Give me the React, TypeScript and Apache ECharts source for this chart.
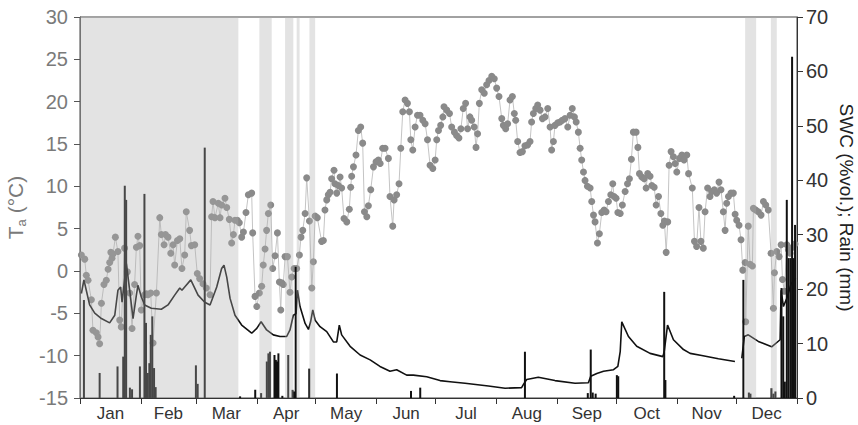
import React, { useEffect, useRef } from "react";
import * as echarts from "echarts";

// Month names and month boundaries (days since 1 Jan)
const MONTHS = ["Jan", "Feb", "Mar", "Apr", "May", "Jun", "Jul", "Aug", "Sep", "Oct", "Nov", "Dec"];
const MONTH_STARTS = [0, 31, 59, 90, 120, 151, 181, 212, 243, 273, 304, 334, 365];

// Shaded periods [start, end] in days since 1 Jan
const SHADED_PERIODS = [
  [0, 80.6], [91.3, 97.6], [104.4, 108.6], [110.3, 111.8], [116.8, 119.7],
  [338.6, 344.2], [351.7, 354.7],
];

// Daily air temperature Ta (°C): [day of year, value]
const TA_OBS = [
  [1.2, 1.9], [2.9, 1.4], [3.7, -0.5], [4.6, -1.1], [6.3, -3.4], [7.1, -7], [8.8, -7.3], [9.7, -7.8], [10.5, -8.6],
  [11.4, -3.8], [12.7, -1.6], [13.9, -1.1], [14.8, 0.2], [15.6, 1], [16.2, 2.2], [16.8, 1.5], [17.3, 2], [18.5, 4],
  [19.8, 2.3], [20.7, -5.8], [21.5, -6.6], [23.2, 2.7], [24.6, -0.1], [25.8, -2.6], [27, -6.8], [28.3, -1.6],
  [29.2, 2.8], [30, 4.1], [30.9, 3], [31.7, -4.6], [33.4, -2.8], [34.3, -2.7], [35.1, -2.8], [36.5, -2.6],
  [37.7, -8.5], [39.4, -2.6], [41.1, 6.3], [41.9, 4.3], [43.3, 3.1], [44, 4.3], [45.3, 4], [46.7, 2.1], [47.9, 3.1],
  [48.7, 0.7], [50.1, 3.6], [51.3, 3.8], [52.4, 0.3], [53.8, 1.9], [54.6, 7], [56.3, 4.8], [57.2, 3], [58.9, 3.1],
  [60.2, -0.3], [61.4, -0.9], [63.1, -1.5], [64.8, -2],
  [66.7, -2.8], [67.5, 6.4], [68.2, 8.2], [69.2, 6.3], [70.9, 8.0], [71.8, 6.3], [72.6, 7.8], [74.3, 8.6], [75.2, 7.5],
  [76.5, 6.1], [77.7, 3.3], [78.6, 4.3], [79.4, 6], [80.6, 6], [81.6, 5.7], [82.8, 4], [83.7, 4.6], [85, 6.9],
  [86.2, 9.0], [87.9, 9.2], [88.4, 4.5], [89.6, -3], [90.5, -4.2], [91.8, -2.6], [93, -1.8], [93.8, 0.7], [94.7, 2.6],
  [95.5, 4.8], [96.4, 6.8], [97.6, 7.8], [98.6, 0.3], [99.8, 1.8], [101, 4.5], [102, -1.3], [102.7, -4.6],
  [103.2, -1.4], [104, -1.6], [104.9, 1.7], [106.1, 1.7], [107.4, -2.5], [108.3, -0.7], [109.5, 0.3], [110.8, 0.3],
  [112.2, 1.9], [113, 4], [113.9, 4.8], [115.1, 6.8], [115.9, 11], [117.3, 5.9], [118.5, -2], [119.3, 1.1],
  [120.2, 6.5], [121.3, 6.3],
  [123.5, 3.5], [124.4, 3.6], [125.2, 7.2], [126.1, 8.4], [126.9, 9], [127.8, 9.3], [128.6, 10.9], [129.8, 11.9],
  [130.3, 10.3], [131.2, 9.2], [132, 10.1], [132.9, 11.1], [133.7, 9.8], [134.9, 6.2], [136.3, 5.8], [137.6, 7.3],
  [138.3, 9.9], [138.8, 11.2], [139.7, 12.3], [141, 13.7], [142.2, 16.6], [143.4, 17], [144.4, 15.1], [145.3, 7],
  [146.5, 6.4], [147.3, 7.7], [148.5, 9.6], [149.9, 12.3], [151.2, 12.9], [152.4, 13.1], [153.3, 12.7], [154.6, 14.5],
  [155.8, 14.5], [157.5, 13.3], [158.3, 8.8], [159.7, 5.3], [160.4, 8.4], [161.7, 9], [162.9, 10.3], [163.8, 14.5],
  [164.8, 18.8], [166, 20.2], [167.2, 19.8], [168.2, 18.8], [168.9, 15.5], [169.9, 14.3], [171.1, 17], [172.3, 18.4],
  [173.6, 18.4], [175, 17.8], [176.2, 17.4], [177.4, 15.5], [178.7, 12.5], [180.1, 12.1], [181.3, 13.1],
  [182.1, 15.5], [183, 16.6], [184.1, 17.2], [185.2, 18.2], [185.8, 19.4], [187.2, 19], [188.6, 18.6],
  [189.7, 17], [191.1, 16.4], [192.2, 16], [193.4, 15.7], [194.4, 16.8], [195.6, 19.2], [196.8, 19.8], [197.8, 16.8],
  [199, 18.2], [199.9, 17.8], [201.2, 17], [202.1, 14.6], [202.9, 16.2], [203.8, 19.8], [205, 21.4], [206.3, 21],
  [207.5, 22], [208.7, 22.5], [210.1, 23], [211.4, 22.7], [212.6, 21.6], [213.8, 20.6], [215.2, 18], [216, 17.2],
  [217.2, 16.8], [218.2, 17.4], [219.4, 20.2], [220.6, 20.6], [221.6, 18.6], [222.3, 17.8], [223.3, 15.3],
  [224.5, 14], [225.7, 14.1], [227, 14.8], [228.4, 14.9], [229.6, 15.3], [230.4, 17.6], [231.3, 18.6], [232.5, 19.2],
  [233.5, 19.6], [234.7, 19], [235.9, 18], [237.2, 18.2], [238.6, 19.2], [239.8, 17], [240.6, 14.3], [241.5, 15.3],
  [242.3, 17.2], [243.7, 17.5], [244.9, 17.6], [246, 17.8], [247.4, 18], [248.8, 17], [250, 18.4], [251.1, 19.2],
  [252.2, 18.2],
  [253.1, 17.6], [254.2, 16.4], [255.1, 14.5], [255.9, 13.1], [256.8, 11.7], [257.6, 10.7], [258.8, 10], [260.2, 9.8],
  [261, 8.2], [261.9, 6.6], [262.7, 5.8], [263.9, 3.3], [264.9, 4.4], [266.1, 6.9], [267.3, 7.2], [268.3, 7],
  [269.5, 8.2], [270.7, 9], [271.7, 10.3], [272.4, 8.8], [273.4, 8.6], [274.3, 6.9], [275.5, 6.8], [276.6, 7.8],
  [278, 9.4], [279.2, 10.3], [280.2, 10.9], [281.2, 13.2], [282.2, 16.4], [283.6, 16.4], [284.5, 14.6],
  [285.3, 11.5], [286.5, 11.1], [287.7, 10.9], [288.7, 9.8], [289.5, 11.5], [290.7, 11.2], [291.6, 10.1],
  [292.8, 9.9], [293.8, 7.8], [295, 8.8], [296.2, 6.8], [297.2, 5.4], [298, 5.9], [298.9, 2.2], [299.7, 5.8],
  [300.4, 12.5], [301.4, 14.1], [302.6, 13.5], [303.5, 12.7], [304.3, 11.7], [305.7, 13.3], [306.9, 13.7],
  [308, 13.1], [309.4, 13.7], [310.3, 11.5],
  [312.2, 9.8], [313.3, 3.5], [314.4, 2.9], [315.6, 7.5], [316.6, 3.5], [317.8, 2.7], [318.7, 7], [320, 9.8],
  [321.2, 8.8], [322.1, 9.4], [323.4, 9.6], [324.6, 9.2], [325.8, 10.5], [326.8, 9.6], [328, 7], [328.9, 4.8],
  [329.7, 8], [330.6, 8.8], [331.9, 9.2], [333.1, 9.2], [334, 6.7], [334.8, 6], [336, 5.4], [337, 3.7], [337.9, 0.1],
  [339.1, 1], [339.4, -6], [340.7, 5.3], [341.6, 0.8], [342.8, 0.6], [343.3, 7.4], [344.5, 7.2], [345.8, 7],
  [347.2, 6.6], [348.4, 8.2], [349.6, 7.8], [350.9, 7.2], [352.3, 2.1], [353.5, -4.4], [354, -0.2], [355.2, 2.3],
  [356.4, 1.7], [357.4, 3.1], [358.1, -1], [359.1, -2.4], [360.3, 3.1], [361.1, 2.5], [362, 2.1], [363.3, 2.8],
  [364.5, 3.2],
];

// Soil water content SWC (%vol.): [day of year, value]; null = gap in record
const SWC_OBS = [
  [1.2, 19.2], [2.5, 21.7], [3.7, 19.8], [5.4, 17.1], [8, 15.6], [11.4, 14.6], [15.6, 13.8], [18.2, 15.2],
  [19.8, 19.8], [21.2, 20.4], [21.9, 17.6], [23.2, 21.7], [24.1, 24.7], [25.8, 19.8], [27.5, 14.6], [29.2, 18.9],
  [30, 20.7], [31.7, 18.6], [33.4, 17.1], [36.8, 16.5], [41.9, 16.3], [45.3, 17.1], [48.7, 18.9], [51.3, 20.2],
  [52.4, 19.8], [53.8, 20.4], [56.9, 21.7], [60.6, 18.9], [64, 17.6], [66.7, 17.1], [70.1, 20.4], [72.6, 23.8],
  [73.8, 24.4], [75.2, 22.2], [76.9, 18.3], [79.4, 15.2], [82.8, 13.4], [87.9, 11.9], [90.5, 12.8], [92.7, 14],
  [95.5, 12.5], [98.9, 11.6], [102.3, 11.3], [105.7, 11.3], [107.4, 12.5], [109.1, 15.2], [110.5, 15.5],
  [111.2, 19.8], [112.5, 16.8], [115.1, 13.7], [116.8, 12.6], [117.9, 14], [119, 16.2], [120.2, 14.3],
  [122.7, 13.1], [126.1, 12.2], [129.5, 10.3], [131.2, 10.3], [132.5, 13.4], [133.7, 11.6], [138, 9.5],
  [143.1, 7.9], [148.2, 7.0], [153.2, 5.8], [158.3, 4.9], [161.7, 5.2], [166.8, 4.2], [170.2, 4.2], [177, 3.9],
  [183.8, 3.2], [188.9, 3.0], [196.5, 2.7], [208.4, 2.2], [216.9, 1.8], [225.3, 1.9], [226.4, 2.6], [227.9, 3.4],
  [233.8, 3.8], [242.3, 3.2], [252.5, 2.7], [259.3, 2.8], [260.5, 4.0], [263.6, 4.5], [267, 4.9], [272.1, 5.2],
  [274.3, 5.8], [275.5, 8.5], [276.3, 14.0], [279.7, 11.3], [283.9, 9.5], [290.7, 8.2], [297.2, 7.6], [297.9, 8.5],
  [299.6, 13.4], [302.6, 10.7], [307.7, 8.9], [311.1, 8.2], [317, 7.8], [325.5, 7.2], [333.9, 6.7], [335.5, null],
  [337.4, 7.3], [338.7, 11.3], [340.7, 11.6], [345.8, 10.4], [352.6, 9.4], [356.9, 10.7], [357.4, 19.8],
  [358.6, 16.8], [360.5, 18.5], [362.5, 21], [364.8, 22],
];

// Daily rainfall (mm): [day of year, value]
const RAIN_OBS = [
  [2.5, 18], [10.5, 4.6], [19.6, 5.8], [22.5, 7.6], [23.3, 39], [24, 36.4], [25.9, 1.9], [27, 1.6], [31, 5.8],
  [33.3, 37.5], [34.1, 13.8], [35, 4.6], [35.8, 6.4], [36.5, 11.6], [37.3, 15], [38.2, 5.5], [39, 2],
  [59.5, 6], [60.4, 2.6], [64, 46], [82, 0.3], [89.7, 1.5], [92.7, 0.9], [95.6, 6.7], [96.4, 8.2], [97.2, 8.5],
  [99.5, 7.9], [100.2, 7.0], [100.8, 6.7], [101.5, 8.2], [103.5, 0.4], [106.5, 7.9], [108.7, 1.5], [109.5, 1.2],
  [110.3, 24.1], [117.2, 5.4], [131.3, 4.5], [169, 1.3], [173.7, 1.9], [227, 8.5], [259, 0.9], [260.5, 8.9],
  [261.5, 1.0], [263, 0.8], [273.8, 4.2], [274.5, 4.0], [297.9, 19.5], [298.5, 3.3], [333.5, 0.4], [338.2, 21.7],
  [341, 1], [341.8, 0.8], [352.5, 1.8], [353.5, 0.8], [354.5, 1.2], [357.6, 20.2], [358.5, 15], [359.3, 3],
  [360.3, 36.4], [361.2, 25.7], [362.2, 25.7], [363, 62.7], [363.8, 25.7], [364.5, 31.8],
];

const FONT = "'Liberation Sans', Arial, Helvetica, sans-serif";

export default function App() {
  const ref = useRef<HTMLDivElement | null>(null);

  useEffect(() => {
    if (!ref.current) return;
    const chart = echarts.init(ref.current, null, { renderer: "svg" });

    const monthMids = MONTH_STARTS.slice(0, 12).map((s, i) => (s + MONTH_STARTS[i + 1]) / 2);
    const toX = (d: number) => d - 0.5;

    const option: any = {
      animation: false,
      backgroundColor: "#ffffff",
      textStyle: { fontFamily: FONT },
      grid: {
        left: 80,
        right: 61,
        top: 17,
        bottom: 27,
        outerBoundsMode: "none",
        containLabel: false,
        show: true,
        borderColor: "#444",
        borderWidth: 1,
        backgroundColor: "transparent",
      },
      xAxis: {
        type: "value",
        min: 0,
        max: 365,
        splitLine: { show: false },
        axisLine: { show: true, onZero: false, lineStyle: { color: "#333", width: 1 } },
        axisTick: { show: true, customValues: MONTH_STARTS, length: 6, lineStyle: { color: "#333" } },
        axisLabel: {
          customValues: monthMids,
          margin: 7,
          fontSize: 17,
          color: "#333",
          fontFamily: FONT,
          formatter: (v: number) => {
            let best = 0;
            for (let i = 0; i < monthMids.length; i++) {
              if (Math.abs(monthMids[i] - v) < Math.abs(monthMids[best] - v)) best = i;
            }
            return MONTHS[best];
          },
        },
      },
      yAxis: [
        {
          type: "value",
          min: -15,
          max: 30,
          interval: 5,
          position: "left",
          splitLine: { show: false },
          axisLine: { show: true, onZero: false, lineStyle: { color: "#555", width: 1 } },
          axisTick: { show: true, length: 6, lineStyle: { color: "#555" } },
          axisLabel: { fontSize: 20, color: "#7a7a7a", margin: 12, fontFamily: FONT },
          name: "{t|T}{s|a}{t| (°C)}",
          nameLocation: "middle",
          nameRotate: 90,
          nameGap: 45,
          nameTextStyle: {
            color: "#7a7a7a",
            fontFamily: FONT,
            rich: {
              t: { fontSize: 21, color: "#7a7a7a", fontFamily: FONT },
              s: { fontSize: 13, color: "#7a7a7a", fontFamily: FONT, padding: [12, 0, 0, 0] },
            },
          },
        },
        {
          type: "value",
          min: 0,
          max: 70,
          interval: 10,
          position: "right",
          splitLine: { show: false },
          axisLine: { show: true, onZero: false, lineStyle: { color: "#333", width: 1 } },
          axisTick: { show: true, length: 6, lineStyle: { color: "#333" } },
          axisLabel: { fontSize: 20, color: "#333", margin: 9, fontFamily: FONT },
          name: "SWC (%vol.); Rain (mm)",
          nameLocation: "middle",
          nameRotate: -90,
          nameGap: 40,
          nameMoveOverlap: false,
          nameTextStyle: { fontSize: 19, lineHeight: 19, color: "#222", fontFamily: FONT },
        },
      ],
      series: [
        {
          name: "Ta",
          type: "line",
          yAxisIndex: 0,
          data: TA_OBS.map(([d, v]) => [toX(d), v]),
          symbol: "circle",
          symbolSize: 7,
          showAllSymbol: true,
          itemStyle: { color: "#8a8a8a" },
          lineStyle: { color: "#c4c4c4", width: 1 },
          z: 3,
        },
        {
          name: "SWC",
          type: "line",
          yAxisIndex: 1,
          data: SWC_OBS.map(([d, v]) => [toX(d as number), v === null ? "-" : v]),
          symbol: "none",
          connectNulls: false,
          lineStyle: { color: "#111", width: 1.6 },
          z: 4,
        },
        {
          name: "Rain",
          type: "bar",
          yAxisIndex: 1,
          data: RAIN_OBS.map(([d, v]) => [toX(d), v]),
          barWidth: 2,
          itemStyle: { color: "#111" },
          z: 5,
        },
        {
          name: "shade",
          type: "line",
          yAxisIndex: 0,
          data: [],
          z: 10,
          markArea: {
            silent: true,
            z: 10,
            itemStyle: { color: "rgba(175,175,175,0.345)", borderWidth: 0 },
            data: SHADED_PERIODS.map(([a, b]) => [{ xAxis: a }, { xAxis: b }]),
          },
        },
      ],
    };

    chart.setOption(option);
    return () => {
      chart.dispose();
    };
  }, []);

  return (
    <div
      ref={ref}
      style={{ position: "fixed", left: 0, top: 0, width: 858, height: 425 }}
    />
  );
}
